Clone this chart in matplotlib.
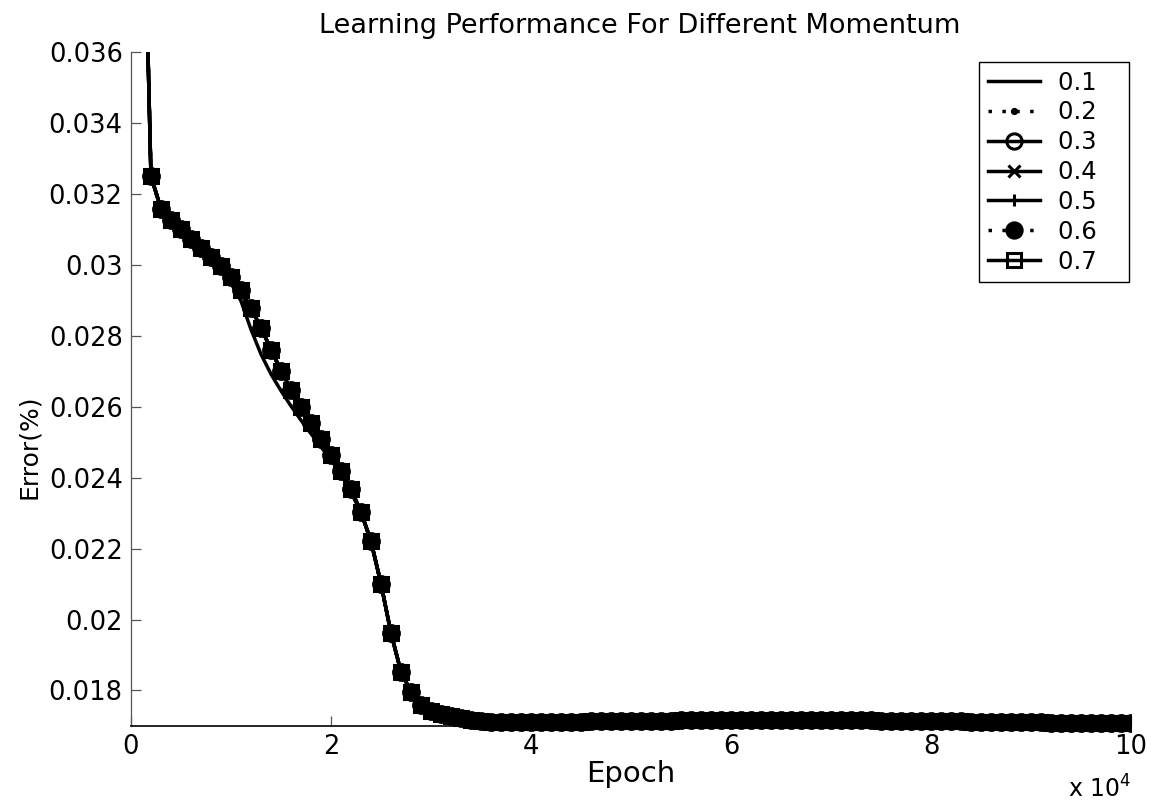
import numpy as np
import matplotlib
matplotlib.use('Agg')
import matplotlib.pyplot as plt
from matplotlib.ticker import FuncFormatter, FixedLocator
from matplotlib.transforms import Bbox, TransformedBbox

# ── Data: training error sampled every 1000 epochs ───────────────────
epochs = np.arange(1000, 100001, 1000)

# momentum 0.2 … 0.7 give practically the same curve
err_shared = [
    0.04420, 0.03250, 0.03158, 0.03127, 0.03101, 0.03073, 0.03048, 0.03023, 0.02997, 0.02966,
    0.02928, 0.02878, 0.02823, 0.02761, 0.02702, 0.02648, 0.02598, 0.02554, 0.02509, 0.02465,
    0.02420, 0.02368, 0.02303, 0.02221, 0.02101, 0.01962, 0.01853, 0.01796, 0.01758, 0.01742,
    0.01735, 0.01728, 0.01722, 0.01717, 0.01713, 0.01711, 0.01710, 0.01710, 0.01710, 0.01710,
    0.01711, 0.01711, 0.01712, 0.01712, 0.01712, 0.01713, 0.01713, 0.01713, 0.01714, 0.01714,
    0.01714, 0.01715, 0.01715, 0.01715, 0.01716, 0.01716, 0.01716, 0.01716, 0.01717, 0.01717,
    0.01717, 0.01717, 0.01717, 0.01717, 0.01717, 0.01717, 0.01717, 0.01717, 0.01717, 0.01717,
    0.01716, 0.01716, 0.01716, 0.01716, 0.01715, 0.01715, 0.01715, 0.01714, 0.01714, 0.01714,
    0.01713, 0.01713, 0.01713, 0.01712, 0.01712, 0.01711, 0.01711, 0.01711, 0.01710, 0.01710,
    0.01710, 0.01709, 0.01709, 0.01709, 0.01708, 0.01708, 0.01708, 0.01707, 0.01707, 0.01707,
]

# momentum 0.1 drops a little faster between 9000 and 22000 epochs
err_01 = [
    0.04420, 0.03250, 0.03158, 0.03127, 0.03101, 0.03073, 0.03048, 0.03023, 0.02988, 0.02948,
    0.02898, 0.02818, 0.02748, 0.02692, 0.02645, 0.02602, 0.02562, 0.02524, 0.02487, 0.02450,
    0.02412, 0.02358, 0.02303, 0.02221, 0.02101, 0.01962, 0.01853, 0.01796, 0.01758, 0.01742,
] + err_shared[30:]

momentum = ["0.1", "0.2", "0.3", "0.4", "0.5", "0.6", "0.7"]
errors = {
    "0.1": err_01,
    "0.2": err_shared,
    "0.3": err_shared,
    "0.4": err_shared,
    "0.5": err_shared,
    "0.6": err_shared,
    "0.7": err_shared,
}

# line style, marker, marker size
styles = {
    "0.1": ("-", "None", 0),
    "0.2": ((0, (1, 3)), ".", 6),
    "0.3": ("-", "o", 11),
    "0.4": ("-", "x", 8),
    "0.5": ("-", "+", 9),
    "0.6": ((0, (1, 3)), ".", 22),
    "0.7": ("-", "s", 10),
}

yticks = [0.018, 0.020, 0.022, 0.024, 0.026, 0.028, 0.030, 0.032, 0.034, 0.036]
ytick_labels = ["0.018", "0.02", "0.022", "0.024", "0.026", "0.028",
                "0.03", "0.032", "0.034", "0.036"]
xticks = [0, 20000, 40000, 60000, 80000, 100000]

plt.rcParams['font.family'] = ['DejaVu Sans']

fig = plt.figure(figsize=(11.6, 8.02), dpi=100)
ax = fig.add_axes([0.1129, 0.0948, 0.8621, 0.8404])

# let markers spill a bit below the x axis
clip = TransformedBbox(Bbox([[0, -0.02], [1, 1]]), ax.transAxes)

for m in momentum:
    ls, mk, ms = styles[m]
    # trailing spaces leave some room on the right of the legend box
    line, = ax.plot(epochs, errors[m], linestyle=ls, marker=mk, markersize=ms,
                    color="black", linewidth=2.5, markeredgewidth=2.2,
                    markerfacecolor="black" if mk == "." else "none",
                    label=m + "   ")
    line.set_clip_box(clip)

ax.set_xlim(0, 100000)
ax.set_ylim(0.017, 0.036)
ax.xaxis.set_major_locator(FixedLocator(xticks))
ax.xaxis.set_major_formatter(FuncFormatter(lambda v, p: f"{v / 1e4:g}"))
ax.set_yticks(yticks)
ax.set_yticklabels(ytick_labels)

for side in ("top", "right"):
    ax.spines[side].set_visible(False)
ax.spines["left"].set_color("#555555")
ax.spines["left"].set_linewidth(0.9)
ax.spines["bottom"].set_color("black")
ax.spines["bottom"].set_linewidth(1.2)
ax.tick_params(direction="in", length=7, width=0.9, colors="#555555",
               labelcolor="black", labelsize=18.5, pad=6)

ax.set_title("Learning Performance For Different Momentum", fontsize=19.5,
             pad=14, x=0.509)
ax.set_xlabel("Epoch", fontsize=21, labelpad=0)
ax.set_ylabel("Error(%)", fontsize=18)
ax.yaxis.set_label_coords(-0.090, 0.414)
ax.text(1.0, -0.106, r"x 10$^{4}$", transform=ax.transAxes, fontsize=17,
        ha="right", va="baseline")

leg = ax.legend(loc="upper right", bbox_to_anchor=(0.998, 0.985), borderaxespad=0,
                fontsize=17.5, handlelength=2.15, handletextpad=0.75,
                labelspacing=0.24, borderpad=0.35, fancybox=False, framealpha=1)
leg.get_frame().set_edgecolor("black")
leg.get_frame().set_linewidth(1.0)

plt.savefig("out.png", dpi=100)
